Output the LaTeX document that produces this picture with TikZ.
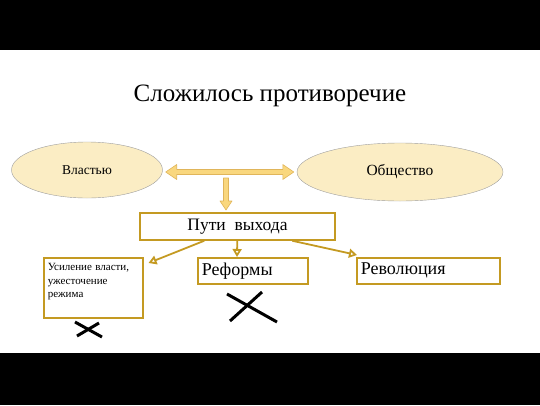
\documentclass[tikz,border=0pt]{standalone}
\usepackage{fontspec}
\setmainfont{Liberation Serif}
\usetikzlibrary{arrows.meta,calc,shapes.geometric}
\definecolor{cream}{HTML}{FBEDC4}
\definecolor{gold}{HTML}{C49A22}
\definecolor{arrowfill}{HTML}{F9D77E}
\definecolor{arrowline}{HTML}{E0B55A}

\begin{document}
\begin{tikzpicture}[x=1pt, y=-1pt,
  side/.style={ellipse, draw=gray!75, fill=cream, inner sep=0pt},
  waybox/.style={draw=gold, line width=1.5pt, fill=white, anchor=north west, inner xsep=4pt, align=left},
  wayarrow/.style={gold, line width=1.8pt, -{Triangle[open, length=8pt, width=9pt]}},
  blockarrow/.style={draw=arrowline, fill=arrowfill, line width=0.6pt, line join=round},
  cross/.style={line width=3pt}]
\useasboundingbox (0,0) rectangle (540,405);
\fill[black] (0,0) rectangle (540,50);
\fill[black] (0,353) rectangle (540,405);

\node (title) at (270,96) {\fontsize{25}{28}\selectfont Сложилось противоречие};

% two sides
\node[side, minimum width=151, minimum height=56] (vlast) at (87,170) {\fontsize{13.5}{15}\selectfont Властью};
\node[side, minimum width=206, minimum height=58] (obsh) at (400,172) {\fontsize{15.5}{17}\selectfont Общество};

% ways out
\node[draw=gold, line width=1.5pt, minimum width=195, minimum height=27] (puti) at (237.5,226.5) {\fontsize{17.5}{19}\selectfont Пути\ \ выхода};
\node[waybox, text width=91, minimum height=60] (usil) at (43,257) {\fontsize{11}{13.5}\selectfont Усиление власти,\\ ужесточение\\ режима\\[2pt]\mbox{}};
\node[waybox, text width=102, minimum height=26] (ref) at (197,257) {\fontsize{18}{20}\selectfont Реформы};
\node[waybox, text width=135, minimum height=26] (rev) at (356,257) {\fontsize{18}{20}\selectfont Революция};

% block arrows
\coordinate (dl) at ($(vlast.east)+(3,2)$);
\coordinate (dr) at ($(obsh.west)+(-3,0)$);
\draw[blockarrow] (dl) -- ++(11,-7.5) -- ++(0,5) -- ($(dr)+(-11,-2.5)$) -- ++(0,-5) -- (dr)
  -- ++(-11,7.5) -- ++(0,-5) -- ($(dl)+(11,2.5)$) -- ++(0,5) -- cycle;
\coordinate (dt) at (226,178);
\coordinate (db) at (226,210);
\draw[blockarrow] ($(dt)+(-2.5,0)$) -- ($(db)+(-2.5,-9)$) -- ($(db)+(-6,-9)$) -- (db)
  -- ($(db)+(6,-9)$) -- ($(db)+(2.5,-9)$) -- ($(dt)+(2.5,0)$) -- cycle;

% connectors
\draw[wayarrow] ($(puti.south west)+(65,0)$) -- ($(usil.north east)+(5,6)$);
\draw[wayarrow] ($(puti.south west)+(98,0)$) -- ($(ref.north west)+(40,0)$);
\draw[wayarrow] ($(puti.south west)+(153,0)$) -- ($(rev.north west)+(1,-2)$);

% crossed out
\draw[cross] (75,322) -- (102,337);
\draw[cross] (77,336) -- (99,323);
\draw[cross] (227,294) -- (277,322);
\draw[cross] (230,321) -- (262,292);
\end{tikzpicture}
\end{document}
